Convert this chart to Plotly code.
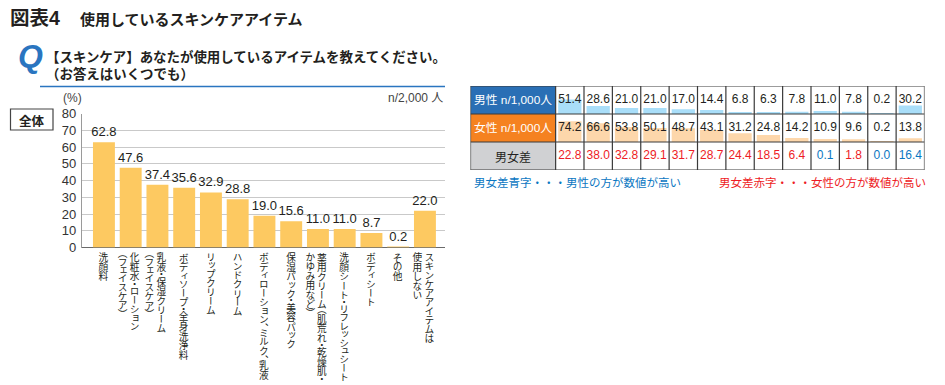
import plotly.graph_objects as go

W, H = 945, 385
FONT = "Liberation Sans, Noto Sans CJK JP, sans-serif"
JP = "Noto Sans CJK JP, sans-serif"
INK = "#231f20"

# ---- data
item_lines = [
    ["洗顔料"],
    ["化粧水・ローション", "（フェイスケア）"],
    ["乳液・保湿クリーム", "（フェイスケア）"],
    ["ボディソープ・全身洗浄料"],
    ["リップクリーム"],
    ["ハンドクリーム"],
    ["ボディローション、ミルク、乳液"],
    ["保湿パック・美容パック"],
    ["薬用クリーム（肌荒れ・乾燥肌・", "かゆみ用など）"],
    ["洗顔シート・リフレッシュシート"],
    ["ボディシート"],
    ["その他"],
    ["スキンケアアイテムは", "使用しない"],
]
total_values = [62.8, 47.6, 37.4, 35.6, 32.9, 28.8, 19.0, 15.6, 11.0, 11.0, 8.7, 0.2, 22.0]
male_values = [51.4, 28.6, 21.0, 21.0, 17.0, 14.4, 6.8, 6.3, 7.8, 11.0, 7.8, 0.2, 30.2]
female_values = [74.2, 66.6, 53.8, 50.1, 48.7, 43.1, 31.2, 24.8, 14.2, 10.9, 9.6, 0.2, 13.8]
gap_values = [22.8, 38.0, 32.8, 29.1, 31.7, 28.7, 24.4, 18.5, 6.4, 0.1, 1.8, 0.0, 16.4]
y_ticks = [0, 10, 20, 30, 40, 50, 60, 70, 80]

# ---- plot frames in pixels
L1, R1, T1, B1 = 82, 445, 113.5, 247.5
L2, R2, T2, B2 = 470.5, 924.5, 86, 170


def xdom(a, b):
    return [a / W, b / W]


def ydom(t, b):
    return [1 - b / H, 1 - t / H]


def px(x):
    return x / W


def py(y):
    return 1 - y / H


idx = list(range(len(total_values)))
fig = go.Figure()

# main bars
fig.add_trace(go.Bar(
    x=idx, y=total_values, width=0.82, marker=dict(color="#fdc961", line_width=0),
    text=[f"{v:.1f}" for v in total_values], textposition="outside", cliponaxis=False,
    constraintext="none", textangle=0,
    textfont=dict(size=13, color=INK, family=FONT), xaxis="x", yaxis="y", showlegend=False,
))

# table mini bars (row height = 100 units)
fig.add_trace(go.Bar(
    x=idx, y=male_values, base=200, width=0.82, marker=dict(color="#a9def9", line_width=0),
    xaxis="x2", yaxis="y2", showlegend=False,
))
fig.add_trace(go.Bar(
    x=idx, y=female_values, base=100, width=0.82, marker=dict(color="#fdd7ab", line_width=0),
    xaxis="x2", yaxis="y2", showlegend=False,
))
# table numbers
fig.add_trace(go.Scatter(
    x=idx, y=[250] * len(idx), mode="text", text=[f"{v:.1f}" for v in male_values],
    textfont=dict(size=12, color=INK, family=FONT), xaxis="x2", yaxis="y2", showlegend=False,
))
fig.add_trace(go.Scatter(
    x=idx, y=[150] * len(idx), mode="text", text=[f"{v:.1f}" for v in female_values],
    textfont=dict(size=12, color=INK, family=FONT), xaxis="x2", yaxis="y2", showlegend=False,
))
gap_colors = ["#0b77c2" if m >= f else "#ee1c25" for m, f in zip(male_values, female_values)]
fig.add_trace(go.Scatter(
    x=idx, y=[50] * len(idx), mode="text", text=[f"{v:.1f}" for v in gap_values],
    textfont=dict(size=12, color=gap_colors, family=FONT), xaxis="x2", yaxis="y2", showlegend=False,
))

shapes = []
# table headers
for y0, y1, c in [(200, 300, "#2a6fb5"), (100, 200, "#f58220"), (0, 100, "#d0d1d3")]:
    shapes.append(dict(type="rect", xref="x2", yref="y2", x0=-3.5, x1=-0.5, y0=y0, y1=y1,
                       fillcolor=c, line_width=0, layer="below"))
# table grid
for y in [0, 100, 200, 300]:
    shapes.append(dict(type="line", xref="x2", yref="y2", x0=-3.5, x1=12.5, y0=y, y1=y,
                       line=dict(color="#3a3a3a", width=1.2)))
for x in [-3.5] + [i - 0.5 for i in range(14)]:
    shapes.append(dict(type="line", xref="x2", yref="y2", x0=x, x1=x, y0=0, y1=300,
                       line=dict(color="#3a3a3a", width=1.2)))
# rule under the question
shapes.append(dict(type="line", xref="paper", yref="paper", x0=px(40), x1=px(445), y0=py(86.5), y1=py(86.5),
                   line=dict(color="#2a75c0", width=1.3)))
# 全体 box
shapes.append(dict(type="rect", xref="paper", yref="paper", x0=px(10.5), x1=px(53), y0=py(130), y1=py(109),
                   line=dict(color="#444444", width=1.2), fillcolor="white"))

ann = []


def text(x, y, s, size, color=INK, anchor="left", family=FONT, **kw):
    ann.append(dict(xref="paper", yref="paper", x=px(x), y=py(y), text=s, showarrow=False,
                    xanchor=anchor, yanchor="middle", font=dict(size=size, color=color, family=family),
                    borderpad=0, **kw))


text(9, 18, "<b>図表4</b>", 19.5, family=FONT)
text(79, 18, "<b>使用しているスキンケアアイテム</b>", 15, family=JP)
text(17, 56, "<b><i>Q</i></b>", 32, color="#2a75c0", family="Liberation Sans")
text(45, 64, "<b>【スキンケア】あなたが使用しているアイテムを教えてください。<br>（お答えはいくつでも）</b>",
     13.45, family=JP, align="left")
text(62, 98, "(%)", 12, color="#444444")
text(444, 98, "n/2,000 人", 12, color="#444444", anchor="right")
text(31.7, 120, "<b>全体</b>", 12.5, anchor="center", family=JP)
text(473, 182, "男女差青字・・・男性の方が数値が高い", 11.5, color="#0b77c2", family=JP)
text(718, 182, "男女差赤字・・・女性の方が数値が高い", 11.5, color="#ee1c25", family=JP)
text(512.5, 100, "男性 n/1,000人", 11.8, color="white", anchor="center")
text(512.5, 128, "女性 n/1,000人", 11.8, color="white", anchor="center")
text(512.5, 156.5, "男女差", 12, anchor="center", family=JP)

# category labels: one text per column, set vertically by the script below
LABEL_TOP = 252
for i, lines in enumerate(item_lines):
    n = len(lines)
    for j, line in enumerate(lines):
        off = 0 if n == 1 else (5.8 - 12 * j - 1.5)
        ann.append(dict(
            xref="x", yref="paper", x=i, xshift=off, y=py(LABEL_TOP),
            text=line, showarrow=False, xanchor="center", yanchor="top", borderpad=0,
            textangle=90, font=dict(size=9.7, color=INK, family=JP),
        ))

fig.update_layout(
    width=W, height=H, margin=dict(l=0, r=0, t=0, b=0, pad=0, autoexpand=False), autosize=False,
    paper_bgcolor="white", plot_bgcolor="white", barmode="overlay", showlegend=False,
    xaxis=dict(domain=xdom(L1, R1), range=[-0.82, 12.75], showticklabels=False, ticks="",
               showgrid=False, zeroline=False, showline=False, fixedrange=True),
    yaxis=dict(domain=ydom(T1, B1), range=[0, 80], tickvals=y_ticks, ticks="", showgrid=True,
               gridcolor="#c9c9c9", gridwidth=1.2, zeroline=True, zerolinecolor="#6a6a6a", zerolinewidth=1.2,
               showline=True, linecolor="#9a9a9a", linewidth=1.2,
               tickfont=dict(size=13, color="#333333", family=FONT), ticklabelstandoff=2, fixedrange=True),
    xaxis2=dict(domain=xdom(L2, R2), range=[-3.5, 12.5], visible=False, anchor="y2", fixedrange=True),
    yaxis2=dict(domain=ydom(T2, B2), range=[0, 300], visible=False, anchor="x2", fixedrange=True),
    shapes=shapes, annotations=ann,
)

VERTICAL_JS = """
document.body.style.margin = '0';
var svgBox = document.querySelector('.main-svg').getBoundingClientRect();
document.querySelectorAll('g.annotation').forEach(function (g) {
  var tg = g.querySelector('.annotation-text-g');
  if (!/rotate\\(90/.test(tg.getAttribute('transform') || '')) return;
  var t = g.querySelector('text.annotation-text');
  var r = t.getBoundingClientRect();
  var cx = r.left + r.width / 2 - svgBox.left;
  var top = r.top - svgBox.top;
  tg.removeAttribute('transform');
  t.parentNode.removeAttribute('transform');
  t.setAttribute('x', cx);
  t.setAttribute('y', top);
  t.setAttribute('text-anchor', 'start');
  t.style.textAnchor = 'start';
  t.style.writingMode = 'vertical-rl';
  t.style.textOrientation = 'mixed';
  t.style.fontFeatureSettings = '"vpal" 1';
  var bg = g.querySelector('rect.bg');
  if (bg) bg.remove();
});
"""
fig.write_html("out.html", config=dict(displayModeBar=False), post_script=VERTICAL_JS)
